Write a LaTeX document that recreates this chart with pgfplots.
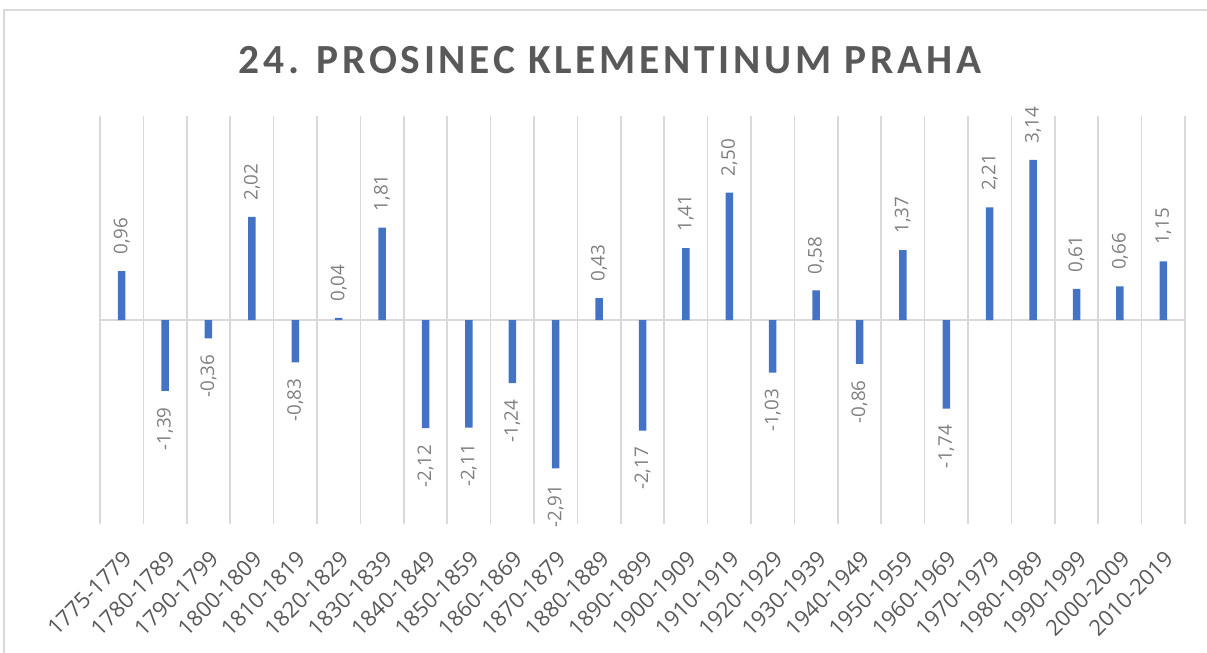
\documentclass[border=0pt]{standalone}
\usepackage{fontspec}
\setmainfont{Carlito}
\newfontfamily\labfont{Open Sans}
\usepackage{pgfplots}
\pgfplotsset{compat=1.18}
\definecolor{barblue}{HTML}{4472C4}
\definecolor{gridgray}{HTML}{D9D9D9}
\definecolor{labgray}{HTML}{7F7F7F}
\definecolor{txtgray}{HTML}{595959}
\begin{document}
\begin{tikzpicture}
\useasboundingbox (0,0) rectangle (603.5pt,326.5pt);
\draw[gridgray, line width=0.75pt] (2pt,-10pt) rectangle (615pt,321.5pt);
\node[text=txtgray, font={\fontsize{20.7}{24}\selectfont\bfseries\addfontfeature{LetterSpace=9}}] at (305pt,296.5pt) {24. PROSINEC KLEMENTINUM PRAHA};
\begin{axis}[
  at={(50pt,64.5pt)}, anchor=south west,
  scale only axis, width=542.5pt, height=204pt,
  xmin=-0.5, xmax=24.5, ymin=-4, ymax=4,
  clip=false,
  axis line style={draw=none},
  ytick=\empty,
  xtick={0,...,24},
  xticklabels={1775-1779,1780-1789,1790-1799,1800-1809,1810-1819,1820-1829,1830-1839,1840-1849,1850-1859,1860-1869,1870-1879,1880-1889,1890-1899,1900-1909,1910-1919,1920-1929,1930-1939,1940-1949,1950-1959,1960-1969,1970-1979,1980-1989,1990-1999,2000-2009,2010-2019},
  major tick length=0pt, minor tick length=0pt,
  minor xtick={-0.5,0.5,...,24.5},
  xminorgrids,
  minor grid style={draw=gridgray, line width=0.75pt},
  extra y ticks={0}, extra y tick labels={},
  extra y tick style={ymajorgrids=true, major grid style={draw=gridgray, line width=0.75pt}},
  xticklabel style={yshift=-12.5pt, rotate=45, anchor=north east, inner sep=0pt, text=txtgray, font={\labfont\fontsize{11}{13}\selectfont}},
  /pgf/number format/.cd, fixed, fixed zerofill, precision=2, use comma, assume math mode=true,
  /pgfplots/.cd,
  ybar, bar width=3.75pt, bar shift=0pt,
  nodes near coords,
  every node near coord/.append style={rotate=90, text=labgray, font={\labfont\fontsize{9.4}{11}\selectfont}, inner xsep=8pt},
]
\addplot[fill=barblue, draw=none, nodes near coords style={anchor=west}] coordinates {
 (0,0.96) (3,2.02) (5,0.04) (6,1.81) (11,0.43) (13,1.41) (14,2.50) (16,0.58) (18,1.37) (20,2.21) (21,3.14) (22,0.61) (23,0.66) (24,1.15)};
\addplot[fill=barblue, draw=none, nodes near coords style={anchor=east}] coordinates {
 (1,-1.39) (2,-0.36) (4,-0.83) (7,-2.12) (8,-2.11) (9,-1.24) (10,-2.91) (12,-2.17) (15,-1.03) (17,-0.86) (19,-1.74)};
\end{axis}
\end{tikzpicture}
\end{document}
